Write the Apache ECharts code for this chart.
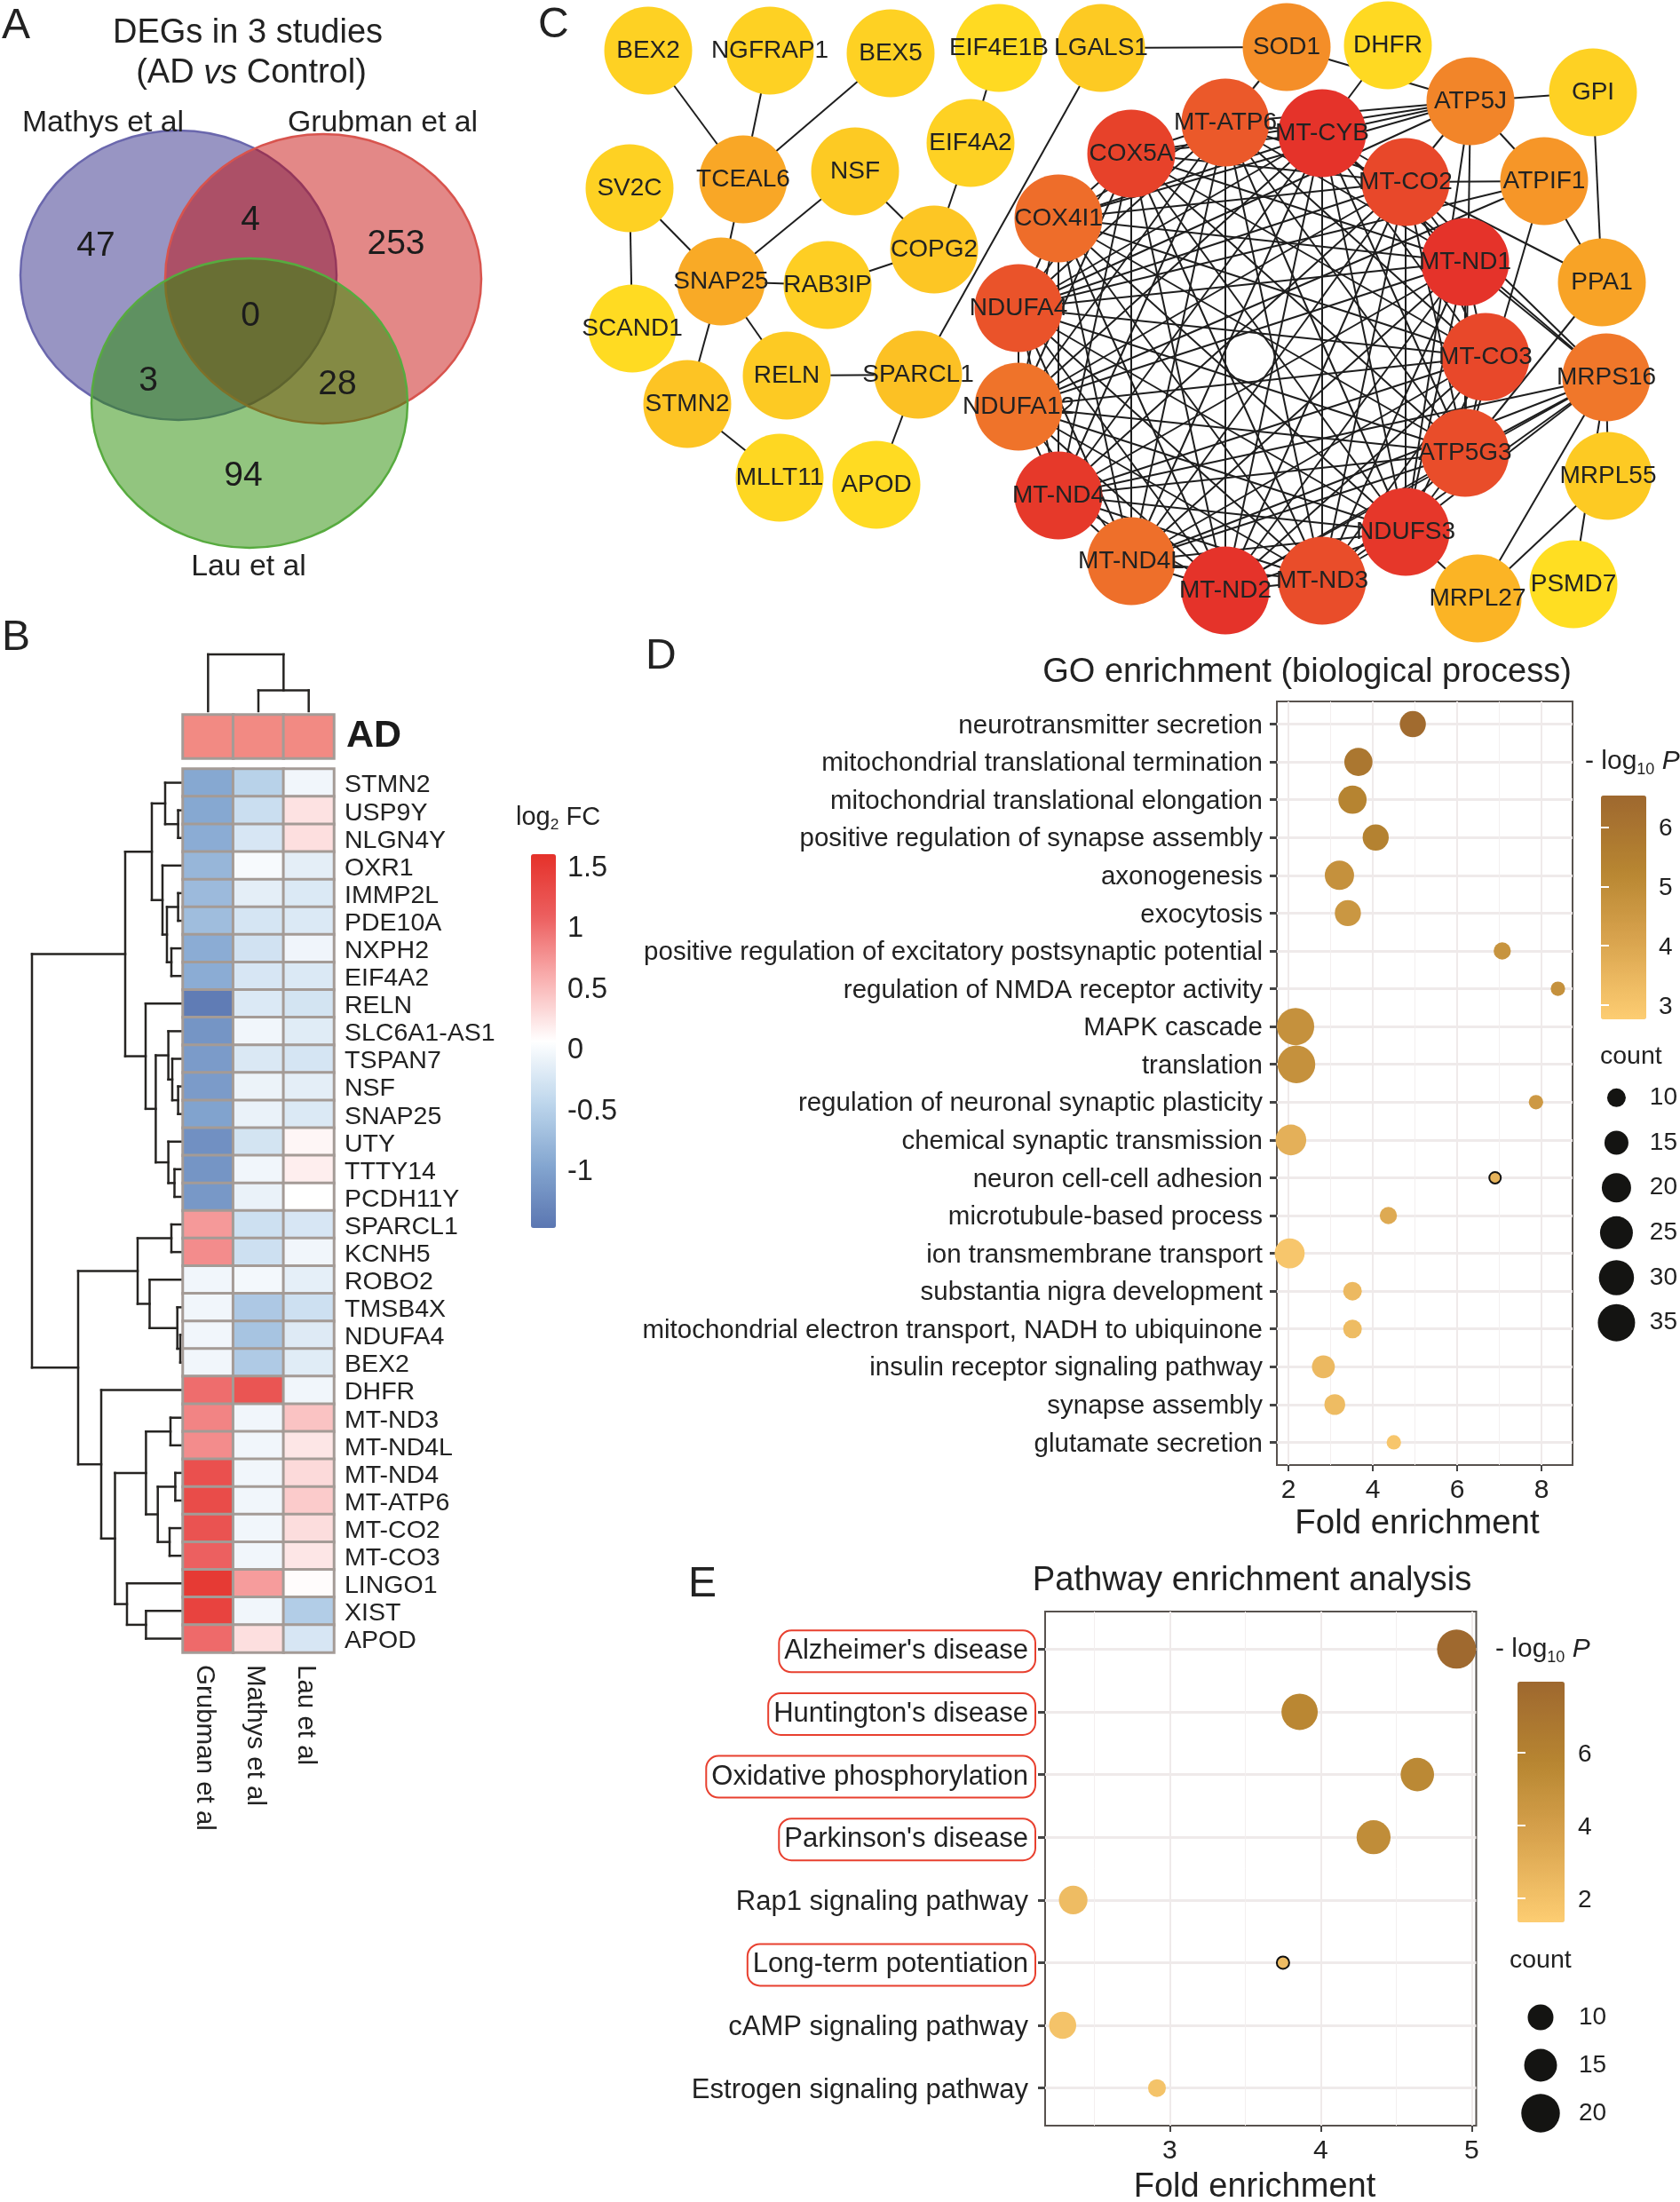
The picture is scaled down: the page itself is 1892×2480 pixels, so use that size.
<!DOCTYPE html>
<html><head><meta charset="utf-8">
<style>html,body{margin:0;padding:0;background:#fff}#c{width:1892px;height:2480px}</style>
<script src="https://cdn.jsdelivr.net/npm/echarts@6/dist/echarts.min.js"></script>
</head><body><div id="c"></div>
<script>
// ---------- DATA ----------
const vennCounts = [47, 253, 94, 4, 3, 28, 0];
const vennSets = ['Mathys et al', 'Grubman et al', 'Lau et al'];

const nodeNames = ['BEX2','NGFRAP1','BEX5','EIF4E1B','LGALS1','SOD1','DHFR','ATP5J','GPI','ATPIF1','PPA1','MRPS16','MRPL55','PSMD7','MRPL27','NDUFS3','MT-ND3','MT-ND2','MT-ND4L','MT-ND4','NDUFA12','NDUFA4','COX4I1','COX5A','MT-ATP6','MT-CYB','MT-CO2','MT-ND1','MT-CO3','ATP5G3','EIF4A2','COPG2','TCEAL6','NSF','SV2C','SNAP25','RAB3IP','SCAND1','RELN','SPARCL1','STMN2','MLLT11','APOD'];
const nodeScores = [.1,.1,.1,.03,.15,.55,.04,.6,.1,.5,.42,.68,.15,0,.32,.98,.88,1,.72,.97,.7,.85,.73,.93,.82,1,.9,1,.9,.88,.1,.18,.4,.15,.1,.38,.12,.02,.15,.22,.2,.05,.02];
const ringNodes = ['COX5A','MT-ATP6','MT-CYB','MT-CO2','MT-ND1','MT-CO3','ATP5G3','NDUFS3','MT-ND3','MT-ND2','MT-ND4L','MT-ND4','NDUFA12','NDUFA4','COX4I1'];
const outerLinks = [['BEX2','TCEAL6'],['NGFRAP1','TCEAL6'],['BEX5','TCEAL6'],['TCEAL6','SNAP25'],['NSF','SNAP25'],['NSF','COPG2'],['EIF4E1B','EIF4A2'],['EIF4A2','COPG2'],['COPG2','RAB3IP'],['SNAP25','RAB3IP'],['SV2C','SNAP25'],['SV2C','SCAND1'],['SNAP25','RELN'],['SNAP25','STMN2'],['STMN2','MLLT11'],['RELN','SPARCL1'],['SPARCL1','APOD'],['SPARCL1','LGALS1'],['LGALS1','SOD1'],['SOD1','ATP5J'],['SOD1','MT-ATP6'],['DHFR','MT-CYB'],['ATP5J','GPI'],['ATP5J','ATPIF1'],['ATP5J','MT-CYB'],['ATP5J','MT-ATP6'],['ATP5J','COX5A'],['ATP5J','COX4I1'],['ATP5J','NDUFA4'],['ATP5J','MT-CO2'],['ATP5J','NDUFS3'],['ATP5J','ATP5G3'],['GPI','PPA1'],['ATPIF1','PPA1'],['ATPIF1','MT-CO2'],['ATPIF1','NDUFA4'],['ATPIF1','NDUFA12'],['ATPIF1','ATP5G3'],['PPA1','MT-CO2'],['PPA1','ATP5G3'],['MRPS16','MT-ND1'],['MRPS16','MT-CO2'],['MRPS16','MT-CYB'],['MRPS16','MT-ND4'],['MRPS16','ATP5G3'],['MRPS16','NDUFS3'],['MRPS16','MT-ND3'],['MRPS16','MT-ND2'],['MRPS16','MT-ND4L'],['MRPS16','MRPL55'],['MRPS16','PSMD7'],['MRPS16','MRPL27'],['MRPL55','MRPL27'],['NDUFS3','MRPL27']];

const studies = ['Grubman et al','Mathys et al','Lau et al'];
const genes = ['STMN2','USP9Y','NLGN4Y','OXR1','IMMP2L','PDE10A','NXPH2','EIF4A2','RELN','SLC6A1-AS1','TSPAN7','NSF','SNAP25','UTY','TTTY14','PCDH11Y','SPARCL1','KCNH5','ROBO2','TMSB4X','NDUFA4','BEX2','DHFR','MT-ND3','MT-ND4L','MT-ND4','MT-ATP6','MT-CO2','MT-CO3','LINGO1','XIST','APOD'];
const grubmanFC = [-.95,-.95,-.9,-.8,-.75,-.72,-.9,-.9,-1.42,-1.15,-1.08,-1.08,-1,-1.2,-1.15,-1.12,.72,.8,-.05,-.05,-.05,-.05,1,.85,.8,1.25,1.3,1.22,1.08,1.5,1.4,1.02];
const mathysFC = [-.5,-.35,-.25,0,-.15,-.27,-.3,-.25,-.22,-.05,-.23,-.09,-.1,-.28,-.05,-.1,-.33,-.33,-.03,-.6,-.65,-.58,1.2,-.05,-.05,-.05,-.05,-.05,-.05,.7,-.05,.27];
const lauFC = [-.05,.25,.27,-.15,-.22,-.22,-.06,-.22,-.28,-.18,-.27,-.15,-.22,.12,.17,.06,-.25,-.05,-.14,-.33,-.2,-.18,-.05,.45,.22,.3,.4,.28,.22,.08,-.55,-.25];
const fcTicks = [-1,-.5,0,.5,1,1.5];
// merge trees: [height, left, right]; leaves follow genes / studies order
const L = 0;
const rowTree = [170,
 [65,
  [35,[20,L,[5.4,L,L]],[23,L,[18,[5.4,L,L],[13,L,L]]]],
  [42,L,[30.6,[16.4,L,[12,L,[5.4,L,L]]],[16.4,L,[9.5,L,L]]]]],
 [118,
  [51,[13,L,L],[37.5,L,[6.3,L,[3,L,L]]]],
  [92,L,[76.5,[41.6,[14,L,L],[28.3,[8.6,L,L],[15,L,L]]],[63,L,[41.6,L,L]]]]]];
const colTree = [64,L,[23.5,L,L]];

const goTerms = ['neurotransmitter secretion','mitochondrial translational termination','mitochondrial translational elongation','positive regulation of synapse assembly','axonogenesis','exocytosis','positive regulation of excitatory postsynaptic potential','regulation of NMDA receptor activity','MAPK cascade','translation','regulation of neuronal synaptic plasticity','chemical synaptic transmission','neuron cell-cell adhesion','microtubule-based process','ion transmembrane transport','substantia nigra development','mitochondrial electron transport, NADH to ubiquinone','insulin receptor signaling pathway','synapse assembly','glutamate secretion'];
const goFold = [4.95,3.66,3.52,4.07,3.21,3.41,7.07,8.39,2.17,2.19,7.87,2.06,6.9,4.37,2.03,3.52,3.52,2.83,3.1,4.5];
const goCount = [17,19,19,17,20,17,9,7,35,36,7,22,5,9,21,10,10,14,12,7];
const goLogP = [6.4,5.9,5.3,5.4,4.8,4.6,4.7,4.8,4.8,4.8,4.5,3.7,3.6,3.9,3,3.4,3.3,3.4,3.3,3];
const goFoldTicks = [2,4,6,8];
const goFoldMinor = [3,5,7];
const goPTicks = [3,4,5,6];
const goCountTicks = [10,15,20,25,30,35];

const pathTerms = ["Alzheimer's disease","Huntington's disease",'Oxidative phosphorylation',"Parkinson's disease",'Rap1 signaling pathway','Long-term potentiation','cAMP signaling pathway','Estrogen signaling pathway'];
const pathHighlighted = [1,1,1,1,0,1,0,0];
const pathFold = [4.9,3.86,4.64,4.35,2.36,3.75,2.29,2.915];
const pathCount = [20.5,18,15.5,16,12,5,11,7];
const pathLogP = [7.9,5.6,5.5,5.2,2.3,2.3,1.9,1.9];
const pathFoldTicks = [3,4,5];
const pathFoldMinor = [2.5,3.5,4.5];
const pathPTicks = [2,4,6];
const pathCountTicks = [10,15,20];

// ---------- LAYOUT / STYLE ----------
const FONT = '"Liberation Sans", Arial, sans-serif';
const INK = '#222';
const vennShapes = [
 {cx:201,cy:310,rx:178,ry:163,fill:'rgba(83,78,155,.6)',stroke:'#6a67ad'},
 {cx:364,cy:314,rx:178,ry:163,fill:'rgba(195,2,0,.47)',stroke:'#d8544e'},
 {cx:281,cy:454,rx:178,ry:163,fill:'rgba(41,141,4,.51)',stroke:'#57ab3f'}];
const vennCountPos = [[108,277],[446,275],[274,536],[282,248],[167,429],[380,433],[282,356]];
const nodePos = {BEX2:[730,57],NGFRAP1:[867,57],BEX5:[1003,60],EIF4E1B:[1125,54],LGALS1:[1240,54],SOD1:[1449,53],DHFR:[1563,51],ATP5J:[1656,114],GPI:[1794,104],ATPIF1:[1739,204],PPA1:[1804,318],MRPS16:[1809,425],MRPL55:[1811,536],PSMD7:[1772,658],MRPL27:[1664,674],NDUFS3:[1583,599],'MT-ND3':[1489,654],'MT-ND2':[1380,665],'MT-ND4L':[1274,632],'MT-ND4':[1192,558],NDUFA12:[1147,458],NDUFA4:[1147,347],COX4I1:[1192,246],COX5A:[1274,173],'MT-ATP6':[1380,138],'MT-CYB':[1489,150],'MT-CO2':[1583,205],'MT-ND1':[1650,295],'MT-CO3':[1673,402],ATP5G3:[1650,510],EIF4A2:[1093,161],COPG2:[1052,281],TCEAL6:[837,202],NSF:[963,193],SV2C:[709,212],SNAP25:[812,317],RAB3IP:[932,321],SCAND1:[712,370],RELN:[886,423],SPARCL1:[1034,422],STMN2:[774,455],MLLT11:[878,538],APOD:[987,546]};
const nodeStops = ['#FFDE22','#FBB225','#F07A2A','#E5332A'];
const fcColors = ['#5b76b1','#84a6d0','#bdd6ec','#ffffff','#f9b0b0','#ec5f5f','#e5312a'];
const pColors = ['#FDCD72','#DBA650','#B78531','#9E682F'];
const goSizeStops = [[5,13],[10,21],[15,27],[20,33],[25,37],[30,39.5],[35,42],[36,42.5]];
const pathSizeStops = [[5,14],[10,29],[15,37],[20,43.5],[21,44.5]];
const interp = (st,v)=>{for(let i=1;i<st.length;i++){if(v<=st[i][0]){const a=st[i-1],b=st[i];return a[1]+(b[1]-a[1])*(v-a[0])/(b[0]-a[0]);}}return st[st.length-1][1];};

const grid=[],xAxis=[],yAxis=[],series=[],visualMap=[],graphic=[];
const addGrid=(l,t,w,h,extra)=>{grid.push(Object.assign({left:l,top:t,width:w,height:h,containLabel:false},extra||{}));return grid.length-1;};
const hidden=(gi,min,max,inv)=>({type:'value',gridIndex:gi,min,max,inverse:!!inv,show:false,splitLine:{show:false}});
const addText=(x,y,text,size,opt)=>{graphic.push({type:'text',x,y,z:50,style:Object.assign({text,fontSize:size,fontFamily:FONT,fill:INK,align:'left',verticalAlign:'middle'},opt||{})});};
const tag=v=>'{p|'+v+'}';
const richText=(size,pad)=>({p:{fontFamily:FONT,fontSize:size,color:INK,padding:pad}});

// --- A: Venn ---
let g=addGrid(0,0,620,680);
xAxis.push(hidden(g,0,620)); yAxis.push(hidden(g,0,680,true));
series.push({type:'custom',xAxisIndex:xAxis.length-1,yAxisIndex:yAxis.length-1,clip:false,silent:true,
 data:vennShapes.map(s=>[s.cx,s.cy,s.rx,s.ry]),
 renderItem:(p,api)=>{const s=vennShapes[p.dataIndex];const c=api.coord([api.value(0),api.value(1)]);const z=api.size([api.value(2),api.value(3)]);
  return {type:'ellipse',shape:{cx:c[0],cy:c[1],rx:z[0],ry:z[1]},style:{fill:s.fill,stroke:s.stroke,lineWidth:2.5}};}});
series.push({type:'scatter',xAxisIndex:xAxis.length-1,yAxisIndex:yAxis.length-1,symbolSize:1,itemStyle:{color:'rgba(0,0,0,0)',opacity:1},silent:true,z:5,
 data:vennCounts.map((n,i)=>({value:vennCountPos[i],name:String(n)})),
 label:{show:true,position:'inside',formatter:'{b}',fontFamily:FONT,fontSize:39,color:'#1c1c1c'}});

// --- C: network ---
g=addGrid(620,0,1272,700);
xAxis.push(hidden(g,620,1892)); yAxis.push(hidden(g,0,700,true));
const ringLinks=[];
ringNodes.forEach((a,i)=>ringNodes.slice(i+1).forEach(b=>ringLinks.push([a,b])));
series.push({type:'graph',coordinateSystem:'cartesian2d',xAxisIndex:xAxis.length-1,yAxisIndex:yAxis.length-1,layout:'none',silent:true,
 symbolSize:99,
 data:nodeNames.map((n,i)=>({name:n,value:nodePos[n],itemStyle:{color:echarts.color.lerp(nodeScores[i],nodeStops)}})),
 links:ringLinks.concat(outerLinks).map(l=>({source:l[0],target:l[1]})),
 lineStyle:{color:'#1e1e1e',width:2,opacity:1,curveness:0},
 label:{show:true,position:'inside',formatter:'{b}',fontFamily:FONT,fontSize:28,color:'#222',padding:[3,0,0,0]}});

// --- B: heatmap ---
const dendroSegs=(tree)=>{let k=0;const segs=[];
 const walk=n=>{if(!Array.isArray(n))return{p:k++,h:0};const a=walk(n[1]),b=walk(n[2]);
  segs.push([a.h,a.p,n[0],a.p],[b.h,b.p,n[0],b.p],[n[0],a.p,n[0],b.p]);return{p:(a.p+b.p)/2,h:n[0]};};
 walk(tree);return segs;};
const lineSeries=(xi,yi,segs,flip)=>({type:'custom',xAxisIndex:xi,yAxisIndex:yi,silent:true,clip:false,data:segs,
 renderItem:(p,api)=>{const v=i=>api.value(i);const A=flip?[v(1),v(0)]:[v(0),v(1)],B=flip?[v(3),v(2)]:[v(2),v(3)];const a=api.coord(A),b=api.coord(B);
  return {type:'line',shape:{x1:a[0],y1:a[1],x2:b[0],y2:b[1]},style:{stroke:'#262422',lineWidth:2.5,lineCap:'square'}};}});
// row dendrogram
g=addGrid(0,866,206,995);
xAxis.push(hidden(g,0,206,true)); yAxis.push(hidden(g,-.5,31.5,true));
series.push(lineSeries(xAxis.length-1,yAxis.length-1,dendroSegs(rowTree),false));
// column dendrogram
g=addGrid(206,737,170,64);
xAxis.push(hidden(g,-.5,2.5)); yAxis.push(hidden(g,0,64));
series.push(lineSeries(xAxis.length-1,yAxis.length-1,dendroSegs(colTree),true));
const cellBorder={borderColor:'#a49b96',borderWidth:3};
// annotation row
g=addGrid(206,805,170,49);
xAxis.push({type:'category',gridIndex:g,data:studies,show:false});
yAxis.push({type:'category',gridIndex:g,data:['AD'],position:'right',axisLine:{show:false},axisTick:{show:false},
 axisLabel:{fontFamily:FONT,fontSize:43,fontWeight:'bold',color:'#1b1b1b',margin:14}});
series.push({type:'heatmap',xAxisIndex:xAxis.length-1,yAxisIndex:yAxis.length-1,silent:true,
 itemStyle:Object.assign({color:'#f28a83'},cellBorder),data:studies.map((s,i)=>[i,0,1])});
// main heatmap
g=addGrid(206,866,170,995);
xAxis.push({type:'category',gridIndex:g,data:studies,position:'bottom',axisLine:{show:false,onZero:false},axisTick:{show:false},
 axisLabel:{rotate:-90,margin:14,interval:0,fontFamily:FONT,fontSize:29.5,color:INK,formatter:tag,rich:richText(29.5,[8,0,0,0])}});
yAxis.push({type:'category',gridIndex:g,data:genes,inverse:true,position:'right',axisLine:{show:false},axisTick:{show:false},
 axisLabel:{interval:0,margin:12,fontFamily:FONT,fontSize:28.5,color:INK,formatter:tag,rich:richText(28.5,[6,0,0,0])}});
const heatIdx=series.length;
series.push({type:'heatmap',xAxisIndex:xAxis.length-1,yAxisIndex:yAxis.length-1,silent:true,itemStyle:cellBorder,
 data:[grubmanFC,mathysFC,lauFC].flatMap((col,c)=>col.map((v,r)=>[c,r,v]))});
visualMap.push({type:'continuous',seriesIndex:heatIdx,min:-1.48,max:1.6,inRange:{color:fcColors},left:598,top:962,itemWidth:28,itemHeight:421,padding:0,calculable:false,text:['',''],showLabel:false,realtime:false,dimension:2,z:2});
// heat legend axis
g=addGrid(598,962,28,421);
xAxis.push(hidden(g,0,1));
yAxis.push({type:'value',gridIndex:g,min:-1.48,max:1.6,position:'right',axisLine:{show:false},splitLine:{show:false},
 axisTick:{show:false,customValues:fcTicks},axisLabel:{customValues:fcTicks,margin:13,fontFamily:FONT,fontSize:32.5,color:INK,formatter:tag,rich:richText(32.5,[5,0,0,0])}});

// --- bubble panels ---
function bubblePanel(c){
 const idx=c.terms.map((_,i)=>i);
 const gi=addGrid(c.box[0],c.box[1],c.box[2],c.box[3],{show:true,borderColor:'#58524e',borderWidth:2,backgroundColor:'#fff'});
 xAxis.push({type:'value',gridIndex:gi,min:c.xr[0],max:c.xr[1],position:'bottom',axisLine:{show:false,onZero:false},
  axisTick:{customValues:c.xt,length:7,lineStyle:{color:'#444',width:2}},
  axisLabel:{customValues:c.xt,margin:c.xm,fontFamily:FONT,fontSize:30,color:INK},
  splitLine:{show:true,lineStyle:{color:'#efeaea',width:2}}});
 const xi=xAxis.length-1;
 xAxis.push({type:'value',gridIndex:gi,min:c.xr[0],max:c.xr[1],position:'top',axisLine:{show:false,onZero:false},
  axisTick:{show:false,customValues:c.xm2},axisLabel:{show:false},splitLine:{show:true,lineStyle:{color:'#f3efef',width:1}}});
 yAxis.push({type:'value',gridIndex:gi,min:-.6,max:c.terms.length-.4,inverse:true,position:'left',axisLine:{show:false,onZero:false},
  axisTick:{customValues:idx,length:8,lineStyle:{color:'#444',width:3}},
  axisLabel:Object.assign({customValues:idx,margin:c.ym,fontFamily:FONT,fontSize:c.yfs,color:INK,formatter:c.fmt||(v=>tag(c.terms[v])),rich:richText(c.yfs,[4,0,0,0])},c.labelExtra||{}),
  splitLine:{show:true,lineStyle:{color:'#efeaea',width:3}}});
 const yi=yAxis.length-1, si=series.length;
 series.push({type:'scatter',xAxisIndex:xi,yAxisIndex:yi,silent:true,z:5,itemStyle:{opacity:1},
  symbolSize:v=>interp(c.stops,v[2]),
  data:c.fold.map((f,i)=>({value:[f,i,c.count[i],c.p[i]],itemStyle:c.count[i]<=5?{opacity:1,borderColor:'#111',borderWidth:2}:{opacity:1}}))});
 visualMap.push({type:'continuous',seriesIndex:si,dimension:3,min:c.pr[0],max:c.pr[1],inRange:{color:pColors},left:c.bar[0],top:c.bar[1],itemWidth:c.bar[2],itemHeight:c.bar[3],padding:0,calculable:false,text:['',''],showLabel:false,z:2});
 // colour bar axis
 const gb=addGrid(c.bar[0],c.bar[1],c.bar[2],c.bar[3]);
 xAxis.push(hidden(gb,0,1));
 const white={show:true,inside:true,length:9,customValues:c.pt,lineStyle:{color:'#fff',width:2}};
 yAxis.push({type:'value',gridIndex:gb,min:c.pr[0],max:c.pr[1],position:'right',z:10,axisLine:{show:false},splitLine:{show:false},axisTick:white,
  axisLabel:{customValues:c.pt,margin:c.pm,fontFamily:FONT,fontSize:28,color:INK,formatter:tag,rich:richText(28,[4,0,0,0])}});
 yAxis.push({type:'value',gridIndex:gb,min:c.pr[0],max:c.pr[1],position:'left',z:10,axisLine:{show:false},splitLine:{show:false},axisTick:white,axisLabel:{show:false}});
 // size legend
 const gs=addGrid(c.sz[0],c.sz[1],c.sz[2],c.sz[3]);
 xAxis.push(hidden(gs,0,1));
 yAxis.push({type:'category',gridIndex:gs,inverse:true,position:'right',data:c.ct.map(String),axisLine:{show:false},axisTick:{show:false},
  axisLabel:{interval:0,margin:c.sm,fontFamily:FONT,fontSize:28,color:INK}});
 series.push({type:'scatter',xAxisIndex:xAxis.length-1,yAxisIndex:yAxis.length-1,silent:true,itemStyle:{color:'#141412',opacity:1},
  symbolSize:v=>interp(c.stops,v[2]),data:c.ct.map((t,i)=>[.5,i,t])});
}
bubblePanel({terms:goTerms,fold:goFold,count:goCount,p:goLogP,box:[1438,790,333,860],xr:[1.727,8.737],xt:goFoldTicks,xm2:goFoldMinor,xm:14,ym:16,yfs:29.5,
 stops:goSizeStops,pr:[2.76,6.53],pt:goPTicks,bar:[1803,896,51,252],pm:14,ct:goCountTicks,sz:[1800,1211,46,304],sm:17});
bubblePanel({terms:pathTerms,fold:pathFold,count:pathCount,p:pathLogP,box:[1177,1815,485.5,579],xr:[2.174,5.03],xt:pathFoldTicks,xm2:pathFoldMinor,xm:14,ym:11,yfs:31,
 fmt:v=>(pathHighlighted[v]?'{hl|':'{p|')+pathTerms[v]+'}',
 labelExtra:{padding:[5,0,0,0],rich:{p:{fontFamily:FONT,fontSize:31,color:INK,padding:[8,8,8,6]},
  hl:{fontFamily:FONT,fontSize:31,color:INK,borderColor:'#e8402f',borderWidth:2,borderRadius:14,padding:[8,8,8,6]}}},
 stops:pathSizeStops,pr:[1.34,7.96],pt:pathPTicks,bar:[1709,1894,53,271],pm:15,ct:pathCountTicks,sz:[1705,2245,60,162],sm:13});

// --- free text ---
[['A',2,30],['B',2,719],['C',606,29],['D',727,740],['E',775,1785]].forEach(t=>addText(t[1],t[2],t[0],48));
addText(279,38,'DEGs in 3 studies',38,{align:'center'});
addText(283,83,'{a|(AD }{i|vs}{a| Control)}',38,{align:'center',rich:{a:{fontSize:38,fontFamily:FONT,fill:INK},i:{fontSize:38,fontFamily:FONT,fontStyle:'italic',fill:INK}}});
addText(116,139,vennSets[0],33.8,{align:'center'});
addText(431,139,vennSets[1],33.8,{align:'center'});
addText(280,639,vennSets[2],33.8,{align:'center'});
const sub=(base)=>({a:{fontSize:base,fontFamily:FONT,fill:INK},s:{fontSize:base*.6,fontFamily:FONT,fill:INK,padding:[base*.6,0,0,0]},i:{fontSize:base,fontFamily:FONT,fontStyle:'italic',fill:INK}});
addText(581,921,'{a|log}{s|2}{a| FC}',29,{rich:sub(29)});
addText(1785,858,'{a|- log}{s|10}{i| P}',30,{rich:sub(30)});
addText(1684,1858,'{a|- log}{s|10}{i| P}',30,{rich:sub(30)});
addText(1802,1190,'count',28.5);
addText(1700,2208,'count',28.5);
addText(1472,758,'GO enrichment (biological process)',38,{align:'center'});
addText(1596,1716,'Fold enrichment',38.4,{align:'center'});
addText(1410,1780,'Pathway enrichment analysis',38.2,{align:'center'});
addText(1413,2464,'Fold enrichment',38,{align:'center'});

const chart=echarts.init(document.getElementById('c'));
chart.setOption({animation:false,backgroundColor:'#fff',grid,xAxis,yAxis,series,visualMap,graphic:{elements:graphic}});
</script></body></html>
